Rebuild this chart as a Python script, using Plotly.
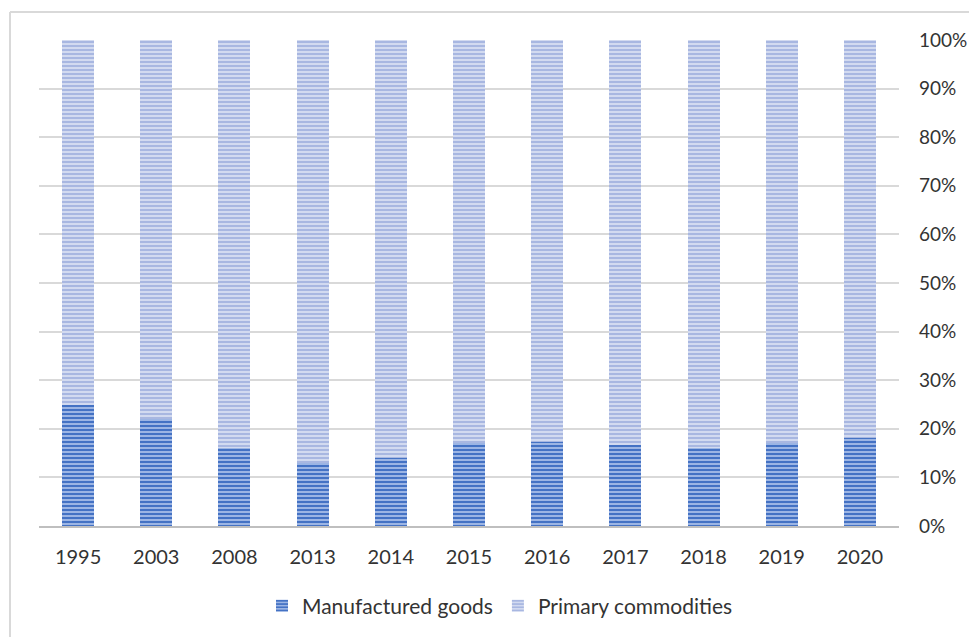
import plotly.graph_objects as go

years = ["1995", "2003", "2008", "2013", "2014", "2015", "2016", "2017", "2018", "2019", "2020"]
manufactured = [0.25, 0.22, 0.16, 0.13, 0.14, 0.17, 0.173, 0.167, 0.16, 0.171, 0.181]
primary = [round(1 - m, 3) for m in manufactured]

FONT = "Lato"
TXT = "#333333"

# page body has an 8px margin: figure is placed at (8, 8)
OFF = 8
PL, PR, PT, PB = 39, 899, 40, 526  # plot area in screen pixels

fig = go.Figure()
fig.add_trace(go.Bar(
    x=years, y=manufactured, name="Manufactured goods",
    marker=dict(color="#A6BCE8", line=dict(width=0),
                pattern=dict(shape="-", fgcolor="#4472C4", bgcolor="#A6BCE8",
                             fillmode="replace", size=4, solidity=0.55)),
))
fig.add_trace(go.Bar(
    x=years, y=primary, name="Primary commodities",
    marker=dict(color="#D7DEF2", line=dict(width=0),
                pattern=dict(shape="-", fgcolor="#A8B7E1", bgcolor="#D7DEF2",
                             fillmode="replace", size=4, solidity=0.55)),
))

W, H = 977 - OFF, 637 - OFF
pw, ph = PR - PL, PB - PT


def px(x):
    return (x - PL) / pw


def py(y):
    return (PB - y) / ph


fig.update_layout(
    barmode="stack",
    bargap=0.59,
    width=W, height=H,
    margin=dict(l=PL - OFF, r=W - (PR - OFF), t=PT - OFF, b=H - (PB - OFF), autoexpand=False),
    plot_bgcolor="white", paper_bgcolor="white",
    font=dict(family=FONT, size=20, color=TXT),
    showlegend=True,
    legend=dict(orientation="h", x=px(500), xanchor="center", y=py(606), yanchor="middle",
                font=dict(family=FONT, size=21, color=TXT), itemwidth=30,
                traceorder="normal"),
    xaxis=dict(showline=True, linecolor="#BFBFBF", linewidth=2, ticks="",
               ticklabelstandoff=12,
               tickfont=dict(family=FONT, size=20, color=TXT), showgrid=False),
    yaxis=dict(side="right", range=[0, 1], dtick=0.1, tickformat=".0%",
               showgrid=True, gridcolor="#D9D9D9", gridwidth=2, zeroline=False,
               ticks="", ticklabelstandoff=19,
               tickfont=dict(family=FONT, size=19, color=TXT)),
    shapes=[
        dict(type="line", xref="paper", yref="paper",
             x0=px(10), x1=px(10), y0=py(12), y1=py(650),
             line=dict(color="#D9D9D9", width=2)),
        dict(type="line", xref="paper", yref="paper",
             x0=px(10), x1=px(990), y0=py(12), y1=py(12),
             line=dict(color="#D9D9D9", width=2)),
    ],
)

fig.write_html("out.html")
